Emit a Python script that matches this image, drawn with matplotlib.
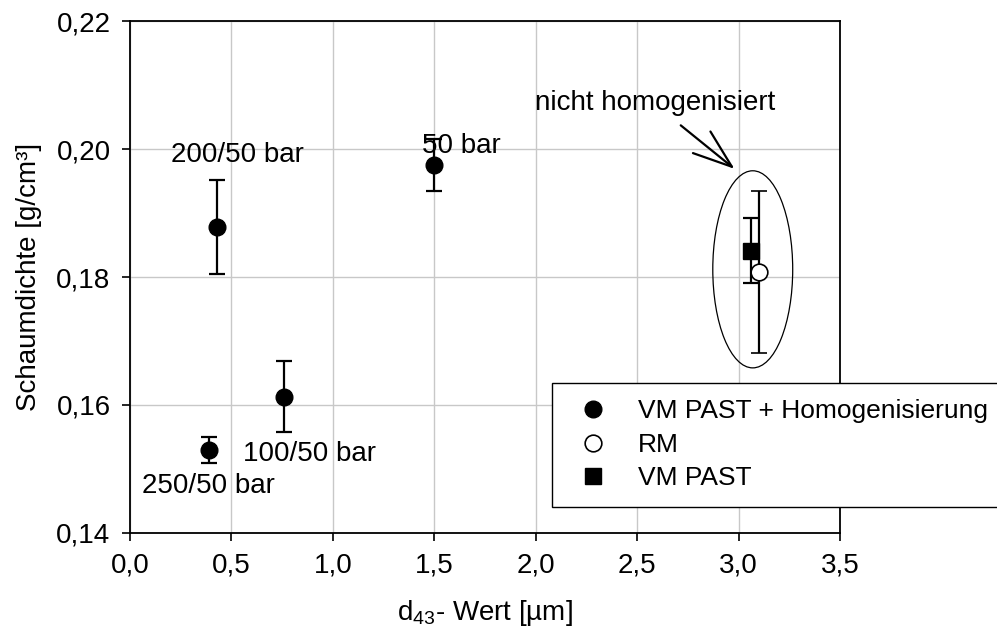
"""Schaumdichte vs. d43-Wert scatter with error bars."""
import matplotlib
matplotlib.use('Agg')
import matplotlib.pyplot as plt
from matplotlib.lines import Line2D
from matplotlib.patches import Ellipse

# homogenised samples (VM PAST + Homogenisierung)
hom_labels = ['250/50 bar', '200/50 bar', '100/50 bar', '50 bar']
hom_x = [0.39, 0.43, 0.76, 1.50]
hom_y = [0.1530, 0.1878, 0.1613, 0.1975]
hom_err = [0.0020, 0.0074, 0.0055, 0.0040]

# not homogenised
rm_x, rm_y, rm_err = [3.10], [0.1808], [0.0127]
vm_x, vm_y, vm_err = [3.06], [0.1841], [0.0051]

x_ticks = [0.0, 0.5, 1.0, 1.5, 2.0, 2.5, 3.0, 3.5]
x_tick_labels = ['0,0', '0,5', '1,0', '1,5', '2,0', '2,5', '3,0', '3,5']
y_ticks = [0.14, 0.16, 0.18, 0.20, 0.22]
y_tick_labels = ['0,14', '0,16', '0,18', '0,20', '0,22']

plt.rcParams['font.family'] = ['Liberation Sans', 'DejaVu Sans']
plt.rcParams['mathtext.fontset'] = 'custom'
plt.rcParams['mathtext.rm'] = 'Liberation Sans'
plt.rcParams['mathtext.it'] = 'Liberation Sans'
FS = 20

fig = plt.figure(figsize=(9.97, 6.39), dpi=100)
ax = fig.add_axes([0.1304, 0.1659, 0.7121, 0.8012])

ebkw = dict(color='black', ms=12, capsize=6, elinewidth=1.6, capthick=1.6, ls='none', zorder=3)
ax.errorbar(hom_x, hom_y, yerr=hom_err, fmt='o', **ebkw)
ax.errorbar(vm_x, vm_y, yerr=vm_err, fmt='s', **ebkw)
ax.errorbar(rm_x, rm_y, yerr=rm_err, fmt='o', mfc='white', mec='black', mew=1.2, **ebkw)

# point labels
label_pos = [(0.387, 0.1473), (0.532, 0.1991), (0.885, 0.1523), (1.636, 0.2005)]
for txt, (lx, ly) in zip(hom_labels, label_pos):
    ax.text(lx, ly, txt, fontsize=FS, ha='center', va='center')

# ellipse + arrow around not-homogenised samples
ax.add_patch(Ellipse((3.07, 0.1812), 0.394, 0.0308, fill=False, lw=0.9, ec='black', zorder=4))
ax.annotate('', xy=(2.98, 0.1969), xytext=(2.715, 0.2037),
            arrowprops=dict(arrowstyle='->,head_length=1.4,head_width=0.5', lw=1.6, color='black',
                            shrinkA=0, shrinkB=0),
            fontsize=FS)
ax.text(2.59, 0.2072, 'nicht homogenisiert', fontsize=FS, ha='center', va='center')

ax.set_xlim(0, 3.5)
ax.set_ylim(0.14, 0.22)
ax.set_xticks(x_ticks)
ax.set_xticklabels(x_tick_labels)
ax.set_yticks(y_ticks)
ax.set_yticklabels(y_tick_labels)
ax.tick_params(direction='out', length=6, width=1.2, labelsize=FS, pad=8)
ax.grid(True, color='#c8c8c8', lw=1.0)
ax.set_axisbelow(True)
for sp in ax.spines.values():
    sp.set_linewidth(1.3)

ax.set_xlabel(r'd$_{\mathregular{43}}$- Wert [µm]', fontsize=FS, labelpad=14)
ax.set_ylabel('Schaumdichte [g/cm³]', fontsize=FS, labelpad=10)

handles = [
    Line2D([], [], marker='o', ls='none', color='black', ms=12),
    Line2D([], [], marker='o', ls='none', mfc='white', mec='black', mew=1.2, ms=12),
    Line2D([], [], marker='s', ls='none', color='black', ms=11),
]
leg = fig.legend(handles, ['VM PAST + Homogenisierung', 'RM', 'VM PAST'],
                 loc='upper left', bbox_to_anchor=(552 / 997, 1 - 383 / 639),
                 fontsize=19, frameon=True, fancybox=False, framealpha=1,
                 edgecolor='black', borderaxespad=0, borderpad=0.62,
                 handlelength=1.9, handletextpad=0.72, labelspacing=0.36)
leg.get_frame().set_linewidth(1.0)

fig.savefig('out.png', dpi=100)
